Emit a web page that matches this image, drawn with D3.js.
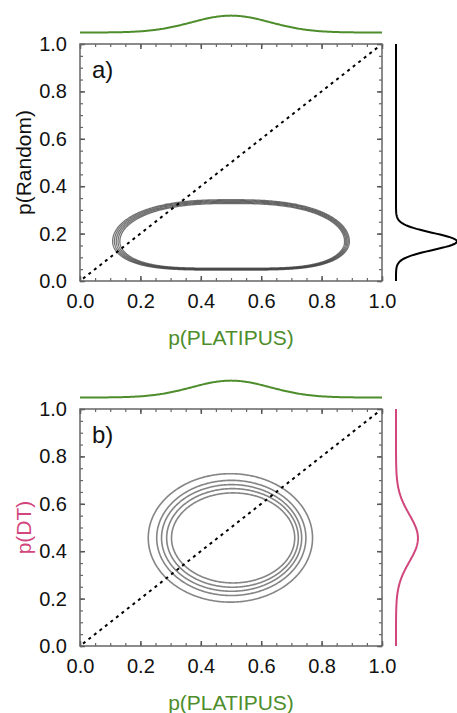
<!DOCTYPE html>
<html>
<head>
<meta charset="utf-8">
<script src="https://cdn.jsdelivr.net/npm/d3@7"></script>
<style>
  body { margin: 0; background: #fff; }
  svg { display: block; font-family: "Liberation Sans", Arial, sans-serif; }
</style>
</head>
<body>
<svg width="457" height="713"></svg>
<script>
// values
var panelNames = ["a)", "b)"];
var yTitles = ["p(Random)", "p(DT)"];
var xTitle = "p(PLATIPUS)";
var tickValues = [0, 0.2, 0.4, 0.6, 0.8, 1.0];

// marginal densities (gaussian fit: mean, sd)
var topMean = [0.5, 0.5];
var topSd = [0.13, 0.13];
var rightMean = [0.167, 0.455];
var rightSd = [0.036, 0.1];
var rightColors = ["#000000", "#d1467c"];

// panel a contour levels (rounded blob)
var aCx = [0.500, 0.501, 0.502, 0.503, 0.504];
var aCy = [0.167, 0.167, 0.167, 0.167, 0.167];
var aRx = [0.392, 0.387, 0.382, 0.377, 0.372];
var aRyTop = [0.176, 0.172, 0.168, 0.164, 0.160];
var aRyBot = [0.121, 0.119, 0.117, 0.115, 0.113];

// panel b contour levels (ellipses)
var bCx = [0.498, 0.501, 0.502, 0.505, 0.507];
var bCy = [0.456, 0.456, 0.456, 0.456, 0.456];
var bRx = [0.272, 0.247, 0.232, 0.218, 0.204];
var bRy = [0.271, 0.243, 0.225, 0.208, 0.190];

var green = "#4e8d2c";
var svg = d3.select("svg");

var plotLeft = 80, plotRight = 382;
var panelTops = [44, 409];
var plotH = 237;

var x = d3.scaleLinear().domain([0, 1]).range([plotLeft, plotRight]);
var densPx = 5.5; // pixels per unit of density

function gauss(v, m, s) {
    return Math.exp(-0.5 * Math.pow((v - m) / s, 2)) / (s * Math.sqrt(2 * Math.PI));
}

var grid = d3.range(0, 1.0001, 0.004);
var angles = d3.range(0, 2 * Math.PI, Math.PI / 240);

panelNames.forEach(function(name, i) {
    var top = panelTops[i];
    var y = d3.scaleLinear().domain([0, 1]).range([top + plotH, top]);
    var g = svg.append("g");

    // top marginal
    var yTop = d3.scaleLinear().domain([0, 1]).range([top - 11.5, top - 11.5 - densPx]);
    g.append("path")
        .datum(grid)
        .attr("fill", "none")
        .attr("stroke", green)
        .attr("stroke-width", 2)
        .attr("d", d3.line()
            .x(function(d) { return x(d); })
            .y(function(d) { return yTop(gauss(d, topMean[i], topSd[i])); }));

    // right marginal
    var xRight = d3.scaleLinear().domain([0, 1]).range([396, 396 + densPx]);
    g.append("path")
        .datum(grid)
        .attr("fill", "none")
        .attr("stroke", rightColors[i])
        .attr("stroke-width", 2)
        .attr("d", d3.line()
            .x(function(d) { return xRight(gauss(d, rightMean[i], rightSd[i])); })
            .y(function(d) { return y(d); }));

    // contours
    var line = d3.line().curve(d3.curveLinearClosed)
        .x(function(d) { return x(d[0]); })
        .y(function(d) { return y(d[1]); });

    if (i === 0) {
        aCx.forEach(function(cx, k) {
            var pts = angles.map(function(t) {
                var c = Math.cos(t), s = Math.sin(t);
                var n = s >= 0 ? 2.6 : 4;
                var ry = s >= 0 ? aRyTop[k] : aRyBot[k];
                return [cx + aRx[k] * Math.sign(c) * Math.pow(Math.abs(c), 2 / n),
                        aCy[k] + ry * s];
            });
            g.append("path")
                .attr("d", line(pts))
                .attr("fill", "none")
                .attr("stroke", "#3a3a3a")
                .attr("stroke-opacity", 0.7)
                .attr("stroke-width", 1.3);
        });
    } else {
        bCx.forEach(function(cx, k) {
            var pts = angles.map(function(t) {
                return [cx + bRx[k] * Math.cos(t), bCy[k] + bRy[k] * Math.sin(t)];
            });
            g.append("path")
                .attr("d", line(pts))
                .attr("fill", "none")
                .attr("stroke", "#858585")
                .attr("stroke-width", 1.6);
        });
    }

    // diagonal
    g.append("line")
        .attr("x1", x(0.01)).attr("y1", y(0.01))
        .attr("x2", x(0.99)).attr("y2", y(0.99))
        .attr("stroke", "#000")
        .attr("stroke-width", 2)
        .attr("stroke-dasharray", "3,4");

    // axes with inward ticks on all sides
    var minor = d3.range(0, 1.0001, 0.05);
    var axes = [
        { ax: d3.axisBottom(x), tr: "translate(0," + (top + plotH) + ")", lab: true },
        { ax: d3.axisTop(x), tr: "translate(0," + top + ")", lab: false },
        { ax: d3.axisLeft(y), tr: "translate(" + plotLeft + ",0)", lab: true },
        { ax: d3.axisRight(y), tr: "translate(" + plotRight + ",0)", lab: false }
    ];
    axes.forEach(function(a) {
        g.append("g").attr("transform", a.tr)
            .call(a.ax.tickValues(minor).tickSize(-3).tickFormat(""))
            .call(function(s) { s.select(".domain").remove(); })
            .selectAll("line").attr("stroke", "#666").attr("stroke-width", 1.2);
        var maj = g.append("g").attr("transform", a.tr)
            .call(a.ax.tickValues(tickValues).tickSize(-5).tickPadding(a.lab ? 13 : 0)
                .tickFormat(a.lab ? d3.format(".1f") : ""));
        maj.select(".domain").remove();
        maj.selectAll("line").attr("stroke", "#555").attr("stroke-width", 1.5);
        maj.selectAll("text")
            .attr("fill", "#111")
            .style("font-size", "20px")
            .style("font-family", "'Liberation Sans', Arial, sans-serif");
    });

    g.append("rect")
        .attr("x", plotLeft).attr("y", top)
        .attr("width", plotRight - plotLeft).attr("height", plotH)
        .attr("fill", "none")
        .attr("stroke", "#666")
        .attr("stroke-width", 1.5);

    // panel letter
    g.append("text")
        .attr("x", 92).attr("y", top + 34)
        .style("font-size", "24px")
        .attr("fill", "#111")
        .text(name);

    // axis titles
    g.append("text")
        .attr("x", (plotLeft + plotRight) / 2).attr("y", top + plotH + 64)
        .attr("text-anchor", "middle")
        .style("font-size", "21px")
        .attr("fill", green)
        .text(xTitle);

    g.append("text")
        .attr("transform", "translate(31," + (top + plotH / 2) + ") rotate(-90)")
        .attr("text-anchor", "middle")
        .style("font-size", "21px")
        .attr("fill", i === 0 ? "#111" : rightColors[1])
        .text(yTitles[i]);
});
</script>
</body>
</html>
